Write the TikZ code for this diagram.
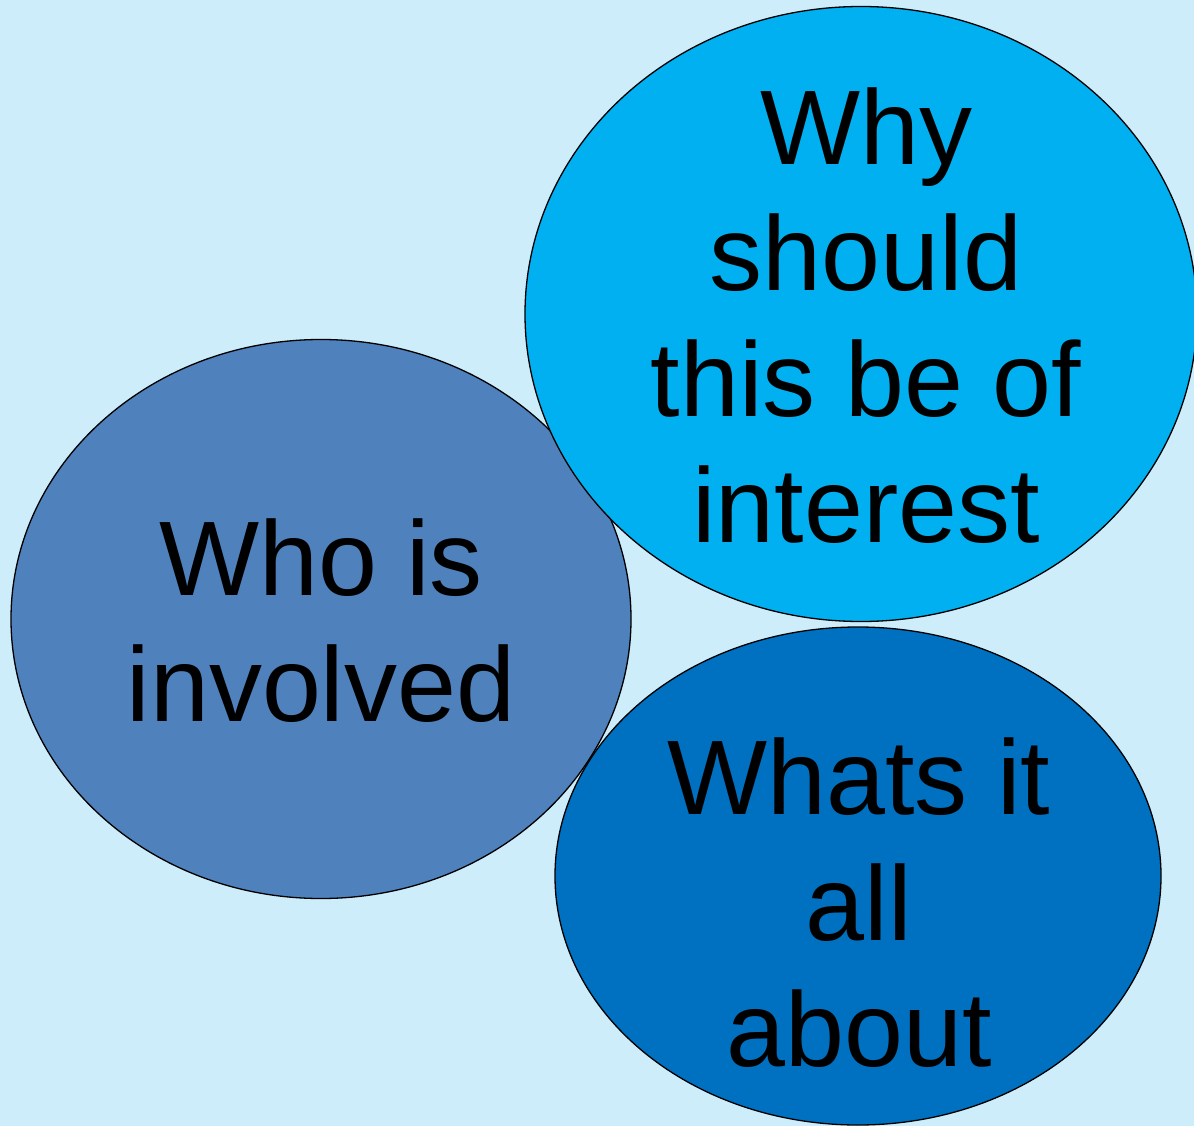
\documentclass[tikz,border=0pt]{standalone}
\usepackage{fontspec}
\setmainfont{Liberation Sans}
\usetikzlibrary{shapes.geometric}
\definecolor{bgblue}{RGB}{204,237,249}
\definecolor{whoblue}{RGB}{79,129,189}
\definecolor{whyblue}{RGB}{0,176,240}
\definecolor{whatblue}{RGB}{0,112,192}
\begin{document}
\begin{tikzpicture}[x=1pt, y=-1pt, every node/.style={inner sep=0pt}]
            \useasboundingbox (0,0) rectangle (1194,1126);
            \clip (0,0) rectangle (1194,1126);
            \fill[bgblue] (0,0) rectangle (1194,1126);

            \node[ellipse, draw, line width=1.3pt, fill=whoblue, minimum width=620pt, minimum height=559pt] at (321,619) (who) {};
            \node[ellipse, draw, line width=1.3pt, fill=whyblue, minimum width=672pt, minimum height=615pt] at (861,314) (why) {};
            \node[ellipse, draw, line width=1.3pt, fill=whatblue, minimum width=606pt, minimum height=498pt] at (858,876) (what) {};

            \node[align=center, font=\fontsize{106}{126}\selectfont] at (321,621) (whotext) {Who is\\involved};
            \node[align=center, font=\fontsize{106}{126}\selectfont] at (866,316) (whytext) {Why\\should\\this be of\\interest};
            \node[align=center, font=\fontsize{106}{126}\selectfont] at (859,903) (whattext) {Whats it\\all\\about};
        \end{tikzpicture}
\end{document}
